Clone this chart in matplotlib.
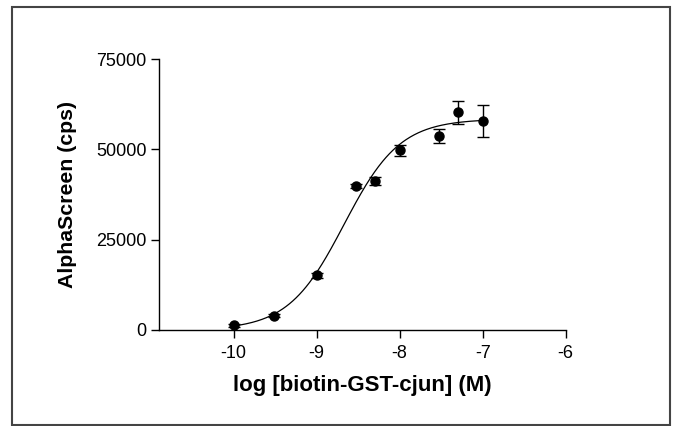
import numpy as np
import matplotlib.pyplot as plt
from matplotlib.patches import Rectangle

plt.rcParams["font.family"] = ["Liberation Sans", "DejaVu Sans"]

# measured points (log M) with SEM
log_conc = [-10.0, -9.52, -9.0, -8.52, -8.3, -8.0, -7.52, -7.3, -7.0]
signal = [1300, 3900, 15100, 39900, 41200, 49700, 53700, 60200, 57800]
sem = [400, 400, 700, 500, 1200, 1500, 2000, 3200, 4500]

# 4PL fit parameters
fit_bottom = 0
fit_top = 58400
fit_logec50 = -8.67
fit_hill = 1.29

x_ticks = [-10, -9, -8, -7, -6]
y_ticks = [0, 25000, 50000, 75000]

fig = plt.figure(figsize=(6.76, 4.26), dpi=100)
ax = fig.add_axes([0.2352, 0.2254, 0.6015, 0.6361])

xx = np.linspace(min(log_conc), max(log_conc), 300)
yy = fit_bottom + (fit_top - fit_bottom) / (1 + 10 ** ((fit_logec50 - xx) * fit_hill))
ax.plot(xx, yy, color="black", lw=0.9)
ax.errorbar(log_conc, signal, yerr=sem, fmt="o", color="black", ms=6.5,
            ecolor="black", elinewidth=1.0, capsize=4.5, capthick=1.0)

ax.set_xlim(-10.9, -6)
ax.set_ylim(0, 75000)
ax.set_xticks(x_ticks)
ax.set_xticklabels([str(t) for t in x_ticks])
ax.set_yticks(y_ticks)
ax.set_yticklabels([str(t) for t in y_ticks])
for side in ["top", "right"]:
    ax.spines[side].set_visible(False)
for side in ["left", "bottom"]:
    ax.spines[side].set_linewidth(1.0)
ax.tick_params(axis="both", length=6, width=1.0, labelsize=13)
ax.tick_params(axis="x", pad=5)
ax.tick_params(axis="y", pad=3)
ax.set_xlabel("log [biotin-GST-cjun] (M)", fontsize=16, fontweight="bold", labelpad=9)
ax.set_ylabel("AlphaScreen (cps)", fontsize=15.3, fontweight="bold", labelpad=14)

fig.patches.append(Rectangle((11.5 / 676, 1 / 426), (670 - 11.5) / 676, (419.5 - 1) / 426,
                             transform=fig.transFigure, fill=False,
                             edgecolor="#444444", lw=1.5))

fig.savefig("out.png", dpi=100)
